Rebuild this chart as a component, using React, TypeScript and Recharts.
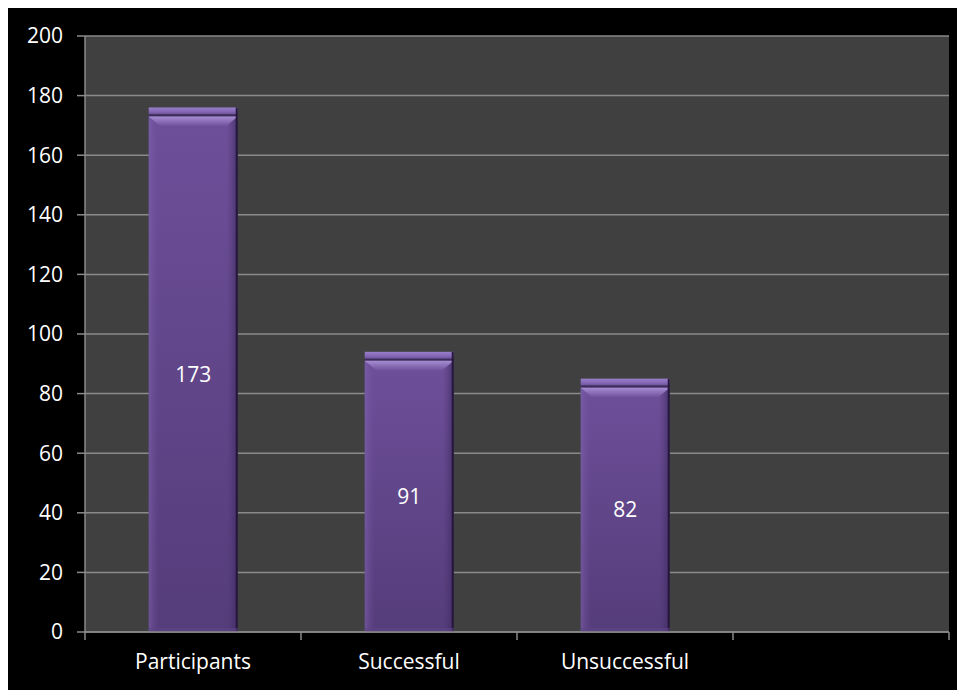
import { Bar, BarChart, CartesianGrid, LabelList, XAxis, YAxis } from 'recharts';

const categories = ['Participants', 'Successful', 'Unsuccessful', ''];
const values: (number | null)[] = [173, 91, 82, null];
const yTicks = [0, 20, 40, 60, 80, 100, 120, 140, 160, 180, 200];

const data = categories.map((name, i) => ({ name, value: values[i] }));

const AXIS_GREY = '#8a8a8a';
const FONT = '"Open Sans", "Liberation Sans", sans-serif';
const X_TICK_MARGIN = 22;
const X_TICK_LEN = 8;

function BevelBar(props: any) {
  const { x, y, width, height, index } = props;
  if (!height || height <= 0) return null;
  const w = width;
  const capH = 9;
  const bev = 10;
  const id = `bb${index}`;
  return (
    <g>
      <defs>
        <linearGradient id={`${id}-face`} x1="0" y1="0" x2="0" y2="1">
          <stop offset="0%" stopColor="#6d4f99" />
          <stop offset="100%" stopColor="#553c7a" />
        </linearGradient>
        <linearGradient id={`${id}-side`} x1="0" y1="0" x2="1" y2="0">
          <stop offset="0%" stopColor="#8266b0" stopOpacity={0.55} />
          <stop offset="12%" stopColor="#6d4f99" stopOpacity={0} />
          <stop offset="88%" stopColor="#4a3370" stopOpacity={0} />
          <stop offset="100%" stopColor="#3a2858" stopOpacity={0.7} />
        </linearGradient>
        <linearGradient id={`${id}-bev`} x1="0" y1="0" x2="0" y2="1">
          <stop offset="0%" stopColor="#a68dd3" />
          <stop offset="100%" stopColor="#6d4f99" />
        </linearGradient>
        <linearGradient id={`${id}-cap`} x1="0" y1="0" x2="0" y2="1">
          <stop offset="0%" stopColor="#9a7fcb" />
          <stop offset="60%" stopColor="#8467b6" />
          <stop offset="100%" stopColor="#6a4e98" />
        </linearGradient>
      </defs>
      {/* cap above value */}
      <rect x={x} y={y - capH} width={w} height={capH - 2} fill={`url(#${id}-cap)`} />
      <rect x={x} y={y - 2} width={w} height={2} fill="#3c2a5a" />
      {/* front face */}
      <rect x={x} y={y} width={w} height={height} fill={`url(#${id}-face)`} />
      <rect x={x} y={y} width={w} height={height} fill={`url(#${id}-side)`} />
      <polygon
        points={`${x},${y} ${x + w},${y} ${x + w - 12},${y + bev} ${x + 12},${y + bev}`}
        fill={`url(#${id}-bev)`}
      />
      <rect x={x + w - 2} y={y - capH} width={2} height={height + capH} fill="#24173a" />
      <rect x={x} y={y + height - 4} width={w} height={4} fill="#5e4585" opacity={0.6} />
    </g>
  );
}

// category label plus tick marks on the band boundaries
function CategoryTick(props: any) {
  const { x, y, payload, index, visibleTicksCount } = props;
  const half = payload?.offset ?? 108;
  const axisY = y - X_TICK_MARGIN;
  const isLast = index === (visibleTicksCount ?? categories.length) - 1;
  return (
    <g>
      <line x1={x - half} y1={axisY} x2={x - half} y2={axisY + X_TICK_LEN} stroke={AXIS_GREY} strokeWidth={1.5} />
      {isLast && (
        <line x1={x + half} y1={axisY} x2={x + half} y2={axisY + X_TICK_LEN} stroke={AXIS_GREY} strokeWidth={1.5} />
      )}
      <text x={x} y={y} dy="0.71em" textAnchor="middle" fill="#ffffff" fontSize={21} fontFamily={FONT}>
        {payload.value}
      </text>
    </g>
  );
}

export default function App() {
  return (
    <div style={{ width: 957, height: 682, background: '#000' }}>
      <BarChart
        width={957}
        height={682}
        data={data}
        margin={{ top: 28, right: 16, left: 0, bottom: 28 }}
        barCategoryGap="29.5%"
      >
        <CartesianGrid vertical={false} stroke={AXIS_GREY} strokeWidth={1.5} fill="#404040" />
        <XAxis
          dataKey="name"
          height={30}
          stroke={AXIS_GREY}
          strokeWidth={1.5}
          tickLine={false}
          tickSize={0}
          tickMargin={X_TICK_MARGIN}
          interval={0}
          tick={<CategoryTick />}
        />
        <YAxis
          domain={[0, 200]}
          ticks={yTicks}
          width={77}
          tickSize={8}
          tickMargin={14}
          stroke={AXIS_GREY}
          strokeWidth={1.5}
          tick={{ fill: '#ffffff', fontSize: 21, fontFamily: FONT }}
          tickLine={{ stroke: AXIS_GREY, strokeWidth: 1.5 }}
        />
        <Bar dataKey="value" shape={<BevelBar />} isAnimationActive={false}>
          <LabelList
            dataKey="value"
            position="center"
            fill="#ffffff"
            fontSize={21}
            fontFamily={FONT}
          />
        </Bar>
      </BarChart>
    </div>
  );
}
